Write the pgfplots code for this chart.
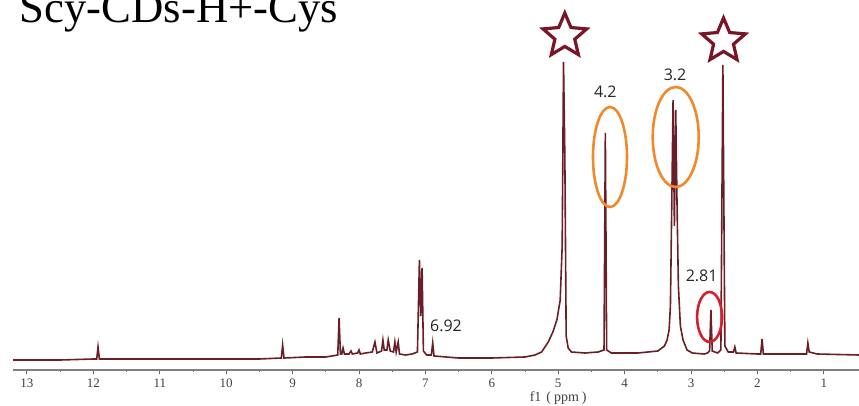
\documentclass[border=0pt]{standalone}
\usepackage{pgfplots}
\pgfplotsset{compat=1.18}
\usepackage{fontspec}
\setmainfont{Liberation Serif}
\newfontfamily\labfont{Open Sans}
\usetikzlibrary{shapes.geometric}
\definecolor{spec}{HTML}{6A1E28}
\definecolor{starc}{HTML}{7A1525}
\definecolor{orng}{HTML}{F0892A}
\definecolor{redc}{HTML}{D4202C}
\begin{document}
\begin{tikzpicture}
\begin{axis}[
  scale only axis, width=846pt, height=370pt,
  x dir=reverse, xmin=0.47, xmax=13.211, ymin=36, ymax=406,
  axis y line=none, axis x line*=bottom,
  axis line style={gray, line width=1.6pt},
  xtick={1,2,...,13}, minor x tick num=1,
  xtick align=outside, major tick length=4pt, minor tick length=2pt,
  tick style={gray!80!black, line width=1pt},
  xticklabel style={font=\fontsize{13}{13}\selectfont, text=black!75, yshift=-1pt},
  /pgf/number format/assume math mode=true,
  clip=false,
]
\addplot[spec, line width=1.6pt] coordinates {
(13.21,46) (12.5,46) (12.0,47) (11.95,47) (11.93,59) (11.91,47) (11.5,47) (10.5,47) (9.5,47)
(9.17,48) (9.15,61) (9.13,48) (8.8,49) (8.5,49) (8.32,51) (8.30,88) (8.28,52) (8.26,52)
(8.24,58) (8.22,52) (8.15,52) (8.12,55) (8.1,52) (8.02,53) (8.0,56) (7.98,52) (7.9,53)
(7.8,54) (7.76,64) (7.73,53) (7.66,55) (7.64,66) (7.62,56) (7.58,56) (7.56,66) (7.53,55)
(7.48,54) (7.46,64) (7.44,54) (7.41,64) (7.39,52) (7.3,51) (7.2,52) (7.12,54) (7.09,146)
(7.07,90) (7.05,138) (7.03,55) (6.98,51) (6.91,51) (6.89,63) (6.87,50) (6.5,48) (6.0,48)
(5.5,49) (5.35,51) (5.25,54) (5.15,64) (5.08,74) (5.02,86) (4.97,106) (4.94,160) (4.92,344)
(4.90,250) (4.88,70) (4.85,58) (4.8,54) (4.6,53) (4.4,54) (4.31,56) (4.29,273) (4.27,56)
(4.2,53) (3.8,53) (3.5,55) (3.40,60) (3.36,66) (3.33,76) (3.31,100) (3.29,200) (3.27,306)
(3.25,180) (3.23,296) (3.21,200) (3.19,120) (3.16,80) (3.12,66) (3.06,56) (2.98,53) (2.8,52)
(2.75,53) (2.72,55) (2.70,96) (2.68,55) (2.6,53) (2.55,56) (2.52,341) (2.49,60) (2.44,54)
(2.36,54) (2.34,59) (2.32,53) (2.0,52) (1.95,52) (1.93,67) (1.91,52) (1.5,52) (1.26,52)
(1.24,63) (1.22,54) (1.1,52) (0.47,51)
};
% annotations
\draw[orng, line width=2.6pt] (axis cs:4.22,249) ellipse [x radius=17pt, y radius=50pt];
\draw[orng, line width=2.6pt] (axis cs:3.23,269) ellipse [x radius=23pt, y radius=50pt];
\draw[redc, line width=2.6pt] (axis cs:2.72,89) ellipse [x radius=12.5pt, y radius=25pt];
\node[star, star points=5, star point ratio=2.2, minimum size=46pt, inner sep=0pt, draw=starc, line width=3.2pt, fill=white] at (axis cs:4.90,370) {};
\node[star, star points=5, star point ratio=2.2, minimum size=46pt, inner sep=0pt, draw=starc, line width=3.2pt, fill=white] at (axis cs:2.51,365) {};
\node[font=\labfont\fontsize{16}{16}\selectfont, text=black!85] at (axis cs:4.29,314) {4.2};
\node[font=\labfont\fontsize{16}{16}\selectfont, text=black!85] at (axis cs:3.24,331) {3.2};
\node[font=\labfont\fontsize{16}{16}\selectfont, text=black!85] at (axis cs:6.69,80) {6.92};
\node[font=\labfont\fontsize{16}{16}\selectfont, text=black!85] at (axis cs:2.84,130) {2.81};
\node[font=\fontsize{14}{14}\selectfont, text=black!75] at (axis cs:5.0,8) {f1\hspace{5pt}(\hspace{3pt}ppm\hspace{3pt})};
\node[anchor=base west, inner sep=0pt, font=\fontsize{44.7}{50}\selectfont] at (axis cs:13.11,383) {Scy-CDs-H+-Cys};
\end{axis}
\pgfresetboundingbox
\useasboundingbox (-13pt,-36pt) rectangle (846pt,370pt);
\end{tikzpicture}
\end{document}
